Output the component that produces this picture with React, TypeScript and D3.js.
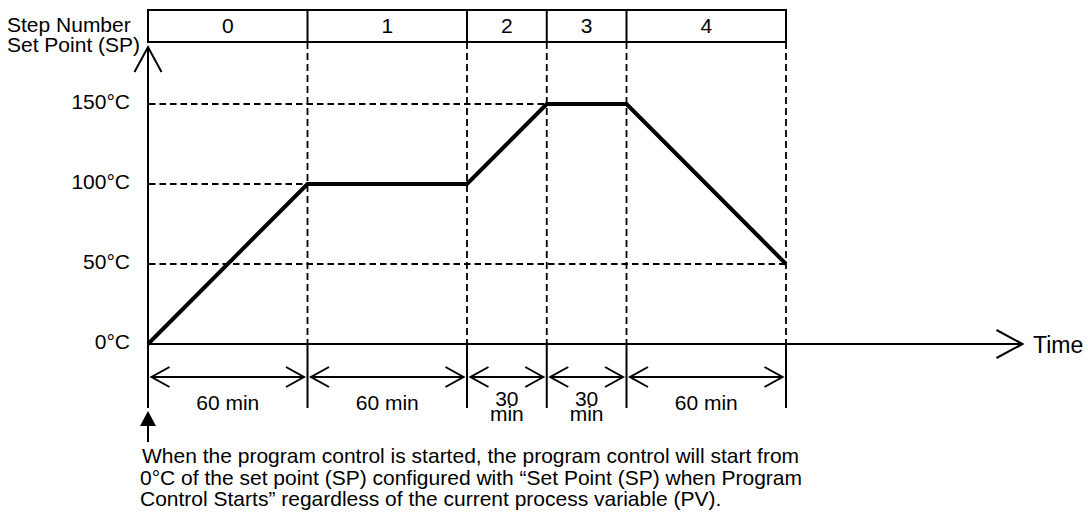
import React from "react";
import * as d3 from "d3";

const stepNumbers = ["0", "1", "2", "3", "4"];
const stepDurations = [60, 60, 30, 30, 60];
const durationLabels = [["60 min"], ["60 min"], ["30", "min"], ["30", "min"], ["60 min"]];
const profileTime = [0, 60, 120, 150, 180, 240];
const profileSP = [0, 100, 100, 150, 150, 50];
const spTicks = [0, 50, 100, 150];
const spTickLabels = ["0°C", "50°C", "100°C", "150°C"];
const headerLines = ["Step Number", "Set Point (SP)"];
const noteLines = [
  "When the program control is started, the program control will start from",
  "0°C of the set point (SP) configured with “Set Point (SP) when Program",
  "Control Starts” regardless of the current process variable (PV).",
];

const FONT = "'Liberation Sans', Arial, Helvetica, sans-serif";

export default function App() {
  const W = 1088;
  const H = 520;
  const x = d3.scaleLinear().domain([0, 240]).range([148, 786]);
  const y = d3.scaleLinear().domain([0, 150]).range([344, 104]);
  const ends = Array.from(d3.cumsum(stepDurations));
  const starts = [0, ...ends.slice(0, -1)];

  const tableTop = 10;
  const tableBottom = 42;
  const dimY = 377;
  const dimBottom = 408;
  const x0 = x(0);
  const y0 = y(0);
  const xAxisEnd = 1022.5;
  const yAxisTop = 47;

  const pts: [number, number][] = profileTime.map((t, i) => [t, profileSP[i]]);
  const line = d3
    .line<[number, number]>()
    .x((d) => x(d[0]))
    .y((d) => y(d[1]));

  const dash = "6.5,4";

  return (
    <svg
      width={W}
      height={H}
      style={{ position: "absolute", left: 0, top: 0, background: "#fff" }}
      fontFamily={FONT}
    >
      <rect x={0} y={0} width={W} height={H} fill="#fff" />

      {/* header labels */}
      {headerLines.map((t, i) => (
        <text key={t} x={7} y={31.5 + i * 20} fontSize={21} fill="#000">
          {t}
        </text>
      ))}

      {/* step table */}
      <rect
        x={x(0)}
        y={tableTop}
        width={x(240) - x(0)}
        height={tableBottom - tableTop}
        fill="none"
        stroke="#000"
        strokeWidth={2}
      />
      {ends.slice(0, -1).map((e) => (
        <line key={"tb" + e} x1={x(e)} x2={x(e)} y1={tableTop} y2={tableBottom} stroke="#000" strokeWidth={2} />
      ))}
      {stepNumbers.map((s, i) => (
        <text
          key={"sn" + s}
          x={(x(starts[i]) + x(ends[i])) / 2}
          y={33}
          fontSize={21}
          textAnchor="middle"
          fill="#000"
        >
          {s}
        </text>
      ))}

      {/* dashed verticals */}
      {ends.map((e) => (
        <line
          key={"dv" + e}
          x1={x(e)}
          x2={x(e)}
          y1={tableBottom}
          y2={y0}
          stroke="#000"
          strokeWidth={1.8}
          strokeDasharray="7,4"
        />
      ))}

      {/* dashed horizontals */}
      {spTicks
        .filter((v) => v > 0)
        .map((v) => {
          const tMax = d3.max(profileTime.filter((_, i) => profileSP[i] === v)) as number;
          return (
            <line
              key={"dh" + v}
              x1={x0 + 1}
              x2={x(tMax)}
              y1={y(v)}
              y2={y(v)}
              stroke="#000"
              strokeWidth={1.8}
              strokeDasharray={dash}
            />
          );
        })}

      {/* tick labels */}
      {spTicks.map((v, i) => (
        <text key={"tl" + v} x={130} y={y(v) + 5} fontSize={21} textAnchor="end" fill="#000">
          {spTickLabels[i]}
        </text>
      ))}

      {/* y axis */}
      <line x1={x0} x2={x0} y1={yAxisTop} y2={dimBottom} stroke="#000" strokeWidth={2} />
      <path
        d={`M${x0 - 13.5},${yAxisTop + 25} L${x0},${yAxisTop} L${x0 + 13.5},${yAxisTop + 25}`}
        fill="none"
        stroke="#000"
        strokeWidth={2}
      />

      {/* x axis */}
      <line x1={x0} x2={xAxisEnd} y1={y0} y2={y0} stroke="#000" strokeWidth={2} />
      <path
        d={`M${xAxisEnd - 26},${y0 - 14} L${xAxisEnd},${y0} L${xAxisEnd - 26},${y0 + 14}`}
        fill="none"
        stroke="#000"
        strokeWidth={2}
      />
      <text x={1033} y={353} fontSize={23} fill="#000">
        Time
      </text>

      {/* profile */}
      <path d={line(pts) || ""} fill="none" stroke="#000" strokeWidth={4} strokeLinejoin="miter" />

      {/* dimension boundaries */}
      {ends.map((e) => (
        <line key={"db" + e} x1={x(e)} x2={x(e)} y1={y0} y2={dimBottom} stroke="#000" strokeWidth={2} />
      ))}

      {/* dimension arrows */}
      {stepDurations.map((d, i) => {
        const a = x(starts[i]) + 3.5;
        const b = x(ends[i]) - 3.5;
        const lbl = durationLabels[i];
        const cx = (x(starts[i]) + x(ends[i])) / 2;
        return (
          <g key={"dim" + i}>
            <line x1={a} x2={b} y1={dimY} y2={dimY} stroke="#000" strokeWidth={2} />
            <path
              d={`M${a + 18},${dimY - 10} L${a},${dimY} L${a + 18},${dimY + 10}`}
              fill="none"
              stroke="#000"
              strokeWidth={2}
            />
            <path
              d={`M${b - 18},${dimY - 10} L${b},${dimY} L${b - 18},${dimY + 10}`}
              fill="none"
              stroke="#000"
              strokeWidth={2}
            />
            {lbl.length === 1 ? (
              <text x={cx} y={409.5} fontSize={21} textAnchor="middle" fill="#000">
                {lbl[0]}
              </text>
            ) : (
              lbl.map((t, j) => (
                <text key={t} x={cx} y={406 + j * 15} fontSize={21} textAnchor="middle" fill="#000">
                  {t}
                </text>
              ))
            )}
          </g>
        );
      })}

      {/* start arrow */}
      <path d={`M${x0},411 L${x0 - 8},426 L${x0 + 8},426 Z`} fill="#000" />
      <line x1={x0} x2={x0} y1={425} y2={442} stroke="#000" strokeWidth={2} />

      {/* note */}
      {noteLines.map((t, i) => (
        <text key={"n" + i} x={i === 0 ? 142 : 140} y={463 + i * 21.5} fontSize={21} fill="#000">
          {t}
        </text>
      ))}
    </svg>
  );
}
